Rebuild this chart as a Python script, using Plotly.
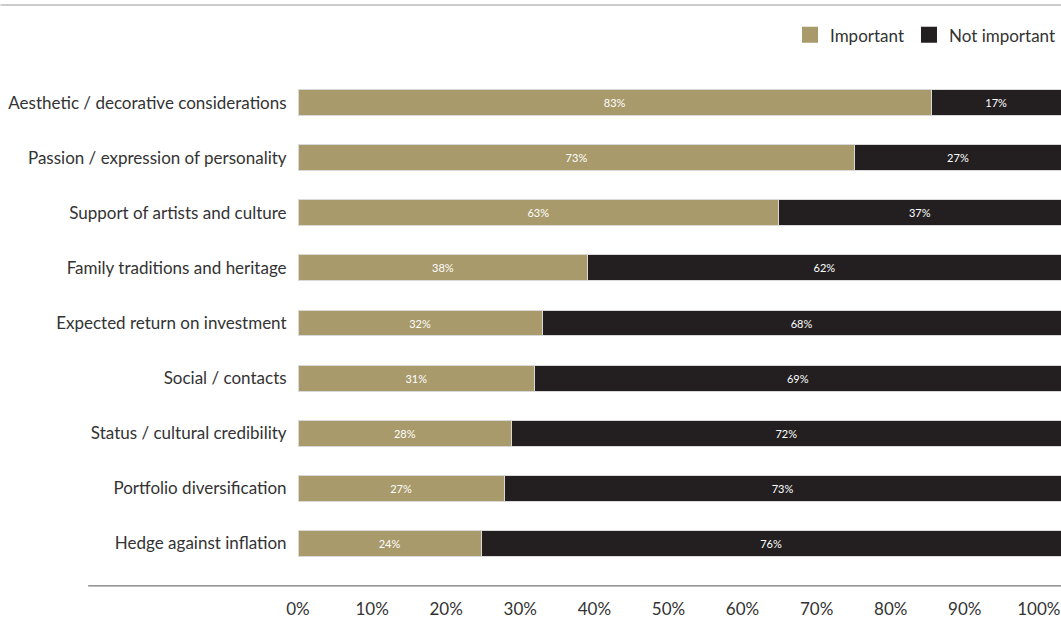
import plotly.graph_objects as go

categories = [
    "Aesthetic / decorative considerations",
    "Passion / expression of personality",
    "Support of artists and culture",
    "Family traditions and heritage",
    "Expected return on investment",
    "Social / contacts",
    "Status / cultural credibility",
    "Portfolio diversification",
    "Hedge against inflation",
]
important = [83, 73, 63, 38, 32, 31, 28, 27, 24]
not_important = [17, 27, 37, 62, 68, 69, 72, 73, 76]
tick_values = [0, 10, 20, 30, 40, 50, 60, 70, 80, 90, 100]
tick_labels = [f"{v}%" for v in tick_values]

GOLD = "#A89A6A"
DARK = "#231F20"
FONT = "Lato"
TXT = "#333333"

fig = go.Figure()
for name, vals, col in [("Important", important, GOLD), ("Not important", not_important, DARK)]:
    fig.add_trace(go.Bar(
        y=categories, x=vals, orientation="h", name=name, showlegend=False,
        marker=dict(color=col, line=dict(color="#d9d9d9", width=1)),
        text=[f"{v}%" for v in vals], textposition="inside",
        insidetextanchor="middle", textangle=0,
        textfont=dict(color="white", size=11, family=FONT),
        width=0.47,
    ))
# legend entries with larger square swatches
for name, col in [("Important", GOLD), ("Not important", DARK)]:
    fig.add_trace(go.Scatter(x=[None], y=[None], mode="markers", name=name,
                             marker=dict(symbol="square", size=18, color=col)))
# invisible trace to anchor the tick-label axis
fig.add_trace(go.Scatter(x=[0, 100], y=[categories[0], categories[0]], xaxis="x2",
                         mode="markers", marker=dict(opacity=0), showlegend=False,
                         hoverinfo="skip"))

fig.update_layout(
    width=1061, height=620,
    barmode="stack",
    plot_bgcolor="rgba(0,0,0,0)", paper_bgcolor="white",
    margin=dict(l=298, r=0, t=75, b=49, autoexpand=False),
    font=dict(family=FONT, size=17, color=TXT),
    xaxis=dict(range=[0, 100], visible=False, fixedrange=True, automargin=False),
    xaxis2=dict(range=[0, 100], domain=[0, 0.971], anchor="free", position=0,
                tickvals=tick_values, ticktext=tick_labels, automargin=False,
                showgrid=False, zeroline=False, showline=False,
                ticks="outside", ticklen=23, tickcolor="rgba(0,0,0,0)",
                tickfont=dict(size=17, color=TXT, family=FONT)),
    yaxis=dict(categoryorder="array", categoryarray=categories[::-1], automargin=False,
               range=[-0.5, 8.5], showgrid=False, zeroline=False, showline=False,
               ticks="outside", ticklen=7, tickcolor="rgba(0,0,0,0)",
               tickfont=dict(size=17, color=TXT, family=FONT)),
    legend=dict(orientation="h", x=1, xanchor="right", y=1.08, yanchor="middle",
                font=dict(size=17, color=TXT, family=FONT),
                traceorder="normal", itemclick=False, itemsizing="trace"),
    bargap=0.5,
    shapes=[
        dict(type="line", xref="paper", yref="paper", x0=-0.39, x1=1, y0=1.141, y1=1.141,
             line=dict(color="#cccccc", width=2)),
        dict(type="line", xref="paper", yref="paper", x0=-0.275, x1=1, y0=-0.03, y1=-0.03,
             line=dict(color="#555555", width=1)),
    ],
)

fig.write_html(
    "out.html",
    config={"displayModeBar": False, "responsive": False},
    post_script=(
        "document.body.style.margin='0px';"
        "document.body.style.overflow='hidden';"
        "document.documentElement.style.overflow='hidden';"
    ),
)
